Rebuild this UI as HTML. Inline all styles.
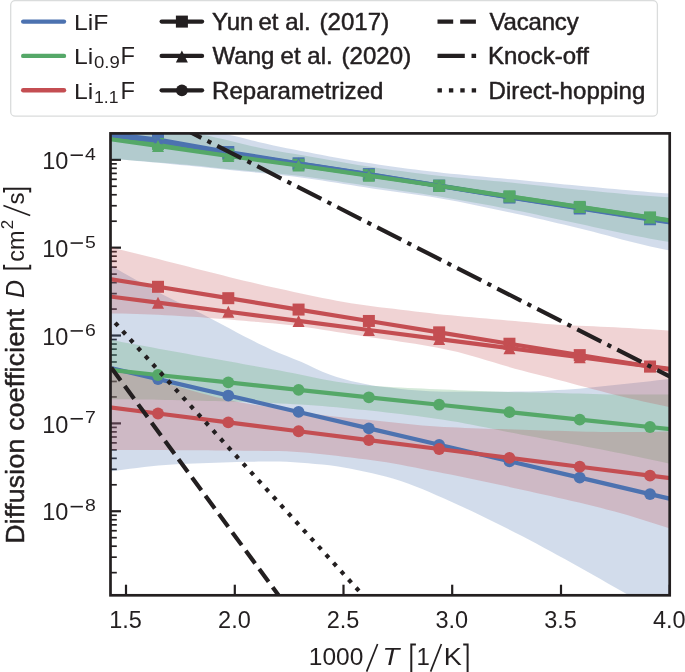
<!DOCTYPE html>
<html lang="en">
<head>
<meta charset="utf-8">
<title>Diffusion coefficient vs 1000/T</title>
<style>
html,body{margin:0;padding:0;background:#fff;}
body{width:685px;height:672px;overflow:hidden;font-family:"Liberation Sans",sans-serif;}
svg{display:block;}
</style>
</head>
<body>
<svg width="685" height="672" viewBox="0 0 685 672" font-family="Liberation Sans, sans-serif" fill="#231f20">
<rect width="685" height="672" fill="#fff"/>
<defs><clipPath id="ax"><rect x="110.5" y="133.4" width="559.2" height="461.9"/></clipPath></defs>
<line x1="110.5" y1="159.8" x2="121" y2="159.8" stroke="#231f20" stroke-width="2.2"/>
<line x1="110.5" y1="247.66" x2="121" y2="247.66" stroke="#231f20" stroke-width="2.2"/>
<line x1="110.5" y1="335.52" x2="121" y2="335.52" stroke="#231f20" stroke-width="2.2"/>
<line x1="110.5" y1="423.38" x2="121" y2="423.38" stroke="#231f20" stroke-width="2.2"/>
<line x1="110.5" y1="511.24" x2="121" y2="511.24" stroke="#231f20" stroke-width="2.2"/>
<line x1="110.5" y1="572.65" x2="116.8" y2="572.65" stroke="#231f20" stroke-width="1.7"/>
<line x1="110.5" y1="557.18" x2="116.8" y2="557.18" stroke="#231f20" stroke-width="1.7"/>
<line x1="110.5" y1="546.2" x2="116.8" y2="546.2" stroke="#231f20" stroke-width="1.7"/>
<line x1="110.5" y1="537.69" x2="116.8" y2="537.69" stroke="#231f20" stroke-width="1.7"/>
<line x1="110.5" y1="530.73" x2="116.8" y2="530.73" stroke="#231f20" stroke-width="1.7"/>
<line x1="110.5" y1="524.85" x2="116.8" y2="524.85" stroke="#231f20" stroke-width="1.7"/>
<line x1="110.5" y1="519.75" x2="116.8" y2="519.75" stroke="#231f20" stroke-width="1.7"/>
<line x1="110.5" y1="515.26" x2="116.8" y2="515.26" stroke="#231f20" stroke-width="1.7"/>
<line x1="110.5" y1="484.79" x2="116.8" y2="484.79" stroke="#231f20" stroke-width="1.7"/>
<line x1="110.5" y1="469.32" x2="116.8" y2="469.32" stroke="#231f20" stroke-width="1.7"/>
<line x1="110.5" y1="458.34" x2="116.8" y2="458.34" stroke="#231f20" stroke-width="1.7"/>
<line x1="110.5" y1="449.83" x2="116.8" y2="449.83" stroke="#231f20" stroke-width="1.7"/>
<line x1="110.5" y1="442.87" x2="116.8" y2="442.87" stroke="#231f20" stroke-width="1.7"/>
<line x1="110.5" y1="436.99" x2="116.8" y2="436.99" stroke="#231f20" stroke-width="1.7"/>
<line x1="110.5" y1="431.89" x2="116.8" y2="431.89" stroke="#231f20" stroke-width="1.7"/>
<line x1="110.5" y1="427.4" x2="116.8" y2="427.4" stroke="#231f20" stroke-width="1.7"/>
<line x1="110.5" y1="396.93" x2="116.8" y2="396.93" stroke="#231f20" stroke-width="1.7"/>
<line x1="110.5" y1="381.46" x2="116.8" y2="381.46" stroke="#231f20" stroke-width="1.7"/>
<line x1="110.5" y1="370.48" x2="116.8" y2="370.48" stroke="#231f20" stroke-width="1.7"/>
<line x1="110.5" y1="361.97" x2="116.8" y2="361.97" stroke="#231f20" stroke-width="1.7"/>
<line x1="110.5" y1="355.01" x2="116.8" y2="355.01" stroke="#231f20" stroke-width="1.7"/>
<line x1="110.5" y1="349.13" x2="116.8" y2="349.13" stroke="#231f20" stroke-width="1.7"/>
<line x1="110.5" y1="344.03" x2="116.8" y2="344.03" stroke="#231f20" stroke-width="1.7"/>
<line x1="110.5" y1="339.54" x2="116.8" y2="339.54" stroke="#231f20" stroke-width="1.7"/>
<line x1="110.5" y1="309.07" x2="116.8" y2="309.07" stroke="#231f20" stroke-width="1.7"/>
<line x1="110.5" y1="293.6" x2="116.8" y2="293.6" stroke="#231f20" stroke-width="1.7"/>
<line x1="110.5" y1="282.62" x2="116.8" y2="282.62" stroke="#231f20" stroke-width="1.7"/>
<line x1="110.5" y1="274.11" x2="116.8" y2="274.11" stroke="#231f20" stroke-width="1.7"/>
<line x1="110.5" y1="267.15" x2="116.8" y2="267.15" stroke="#231f20" stroke-width="1.7"/>
<line x1="110.5" y1="261.27" x2="116.8" y2="261.27" stroke="#231f20" stroke-width="1.7"/>
<line x1="110.5" y1="256.17" x2="116.8" y2="256.17" stroke="#231f20" stroke-width="1.7"/>
<line x1="110.5" y1="251.68" x2="116.8" y2="251.68" stroke="#231f20" stroke-width="1.7"/>
<line x1="110.5" y1="221.21" x2="116.8" y2="221.21" stroke="#231f20" stroke-width="1.7"/>
<line x1="110.5" y1="205.74" x2="116.8" y2="205.74" stroke="#231f20" stroke-width="1.7"/>
<line x1="110.5" y1="194.76" x2="116.8" y2="194.76" stroke="#231f20" stroke-width="1.7"/>
<line x1="110.5" y1="186.25" x2="116.8" y2="186.25" stroke="#231f20" stroke-width="1.7"/>
<line x1="110.5" y1="179.29" x2="116.8" y2="179.29" stroke="#231f20" stroke-width="1.7"/>
<line x1="110.5" y1="173.41" x2="116.8" y2="173.41" stroke="#231f20" stroke-width="1.7"/>
<line x1="110.5" y1="168.31" x2="116.8" y2="168.31" stroke="#231f20" stroke-width="1.7"/>
<line x1="110.5" y1="163.82" x2="116.8" y2="163.82" stroke="#231f20" stroke-width="1.7"/>
<line x1="126" y1="595.3" x2="126" y2="584.7" stroke="#231f20" stroke-width="2.2"/>
<line x1="234.8" y1="595.3" x2="234.8" y2="584.7" stroke="#231f20" stroke-width="2.2"/>
<line x1="343.5" y1="595.3" x2="343.5" y2="584.7" stroke="#231f20" stroke-width="2.2"/>
<line x1="452.2" y1="595.3" x2="452.2" y2="584.7" stroke="#231f20" stroke-width="2.2"/>
<line x1="561" y1="595.3" x2="561" y2="584.7" stroke="#231f20" stroke-width="2.2"/>
<line x1="669.7" y1="595.3" x2="669.7" y2="584.7" stroke="#231f20" stroke-width="2.2"/>
<g clip-path="url(#ax)">
<polygon points="108.5,118.73 115.63,119.71 122.76,120.73 129.89,121.8 137.02,122.9 144.15,124.05 151.27,125.23 158.4,126.45 165.53,127.7 172.66,128.99 179.79,130.3 186.92,131.64 194.05,133 201.18,134.39 208.31,135.84 215.44,137.41 222.57,139.08 229.69,140.81 236.82,142.56 243.95,144.28 251.08,145.95 258.21,147.53 265.34,148.97 272.47,150.27 279.6,151.48 286.73,152.64 293.86,153.81 300.99,155.01 308.12,156.24 315.24,157.5 322.37,158.77 329.5,160.04 336.63,161.3 343.76,162.54 350.89,163.75 358.02,164.92 365.15,166.03 372.28,167.1 379.41,168.14 386.54,169.15 393.66,170.15 400.79,171.11 407.92,172.06 415.05,172.97 422.18,173.85 429.31,174.69 436.44,175.51 443.57,176.28 450.7,177.01 457.83,177.7 464.96,178.36 472.08,179 479.21,179.63 486.34,180.26 493.47,180.9 500.6,181.56 507.73,182.24 514.86,182.95 521.99,183.68 529.12,184.42 536.25,185.18 543.38,185.94 550.51,186.7 557.63,187.45 564.76,188.2 571.89,188.93 579.02,189.63 586.15,190.33 593.28,191.03 600.41,191.74 607.54,192.43 614.67,193.12 621.8,193.78 628.93,194.42 636.05,195.03 643.18,195.6 650.31,196.12 657.44,196.59 664.57,197.02 671.7,197.41 671.7,242.33 664.57,241.15 657.44,239.93 650.31,238.66 643.18,237.31 636.05,235.91 628.93,234.46 621.8,232.98 614.67,231.48 607.54,229.95 600.41,228.42 593.28,226.89 586.15,225.36 579.02,223.86 571.89,222.34 564.76,220.81 557.63,219.26 550.51,217.71 543.38,216.16 536.25,214.62 529.12,213.11 521.99,211.62 514.86,210.18 507.73,208.78 500.6,207.41 493.47,206.06 486.34,204.73 479.21,203.42 472.08,202.14 464.96,200.88 457.83,199.64 450.7,198.42 443.57,197.23 436.44,196.07 429.31,194.94 422.18,193.83 415.05,192.75 407.92,191.69 400.79,190.64 393.66,189.6 386.54,188.57 379.41,187.54 372.28,186.5 365.15,185.44 358.02,184.36 350.89,183.27 343.76,182.16 336.63,181.06 329.5,179.99 322.37,178.94 315.24,177.93 308.12,176.97 300.99,176.08 293.86,175.26 286.73,174.5 279.6,173.78 272.47,173.1 265.34,172.44 258.21,171.79 251.08,171.15 243.95,170.51 236.82,169.85 229.69,169.17 222.57,168.45 215.44,167.68 208.31,166.89 201.18,166.11 194.05,165.38 186.92,164.73 179.79,164.15 172.66,163.62 165.53,163.08 158.4,162.53 151.27,161.95 144.15,161.37 137.02,160.77 129.89,160.17 122.76,159.56 115.63,158.95 108.5,158.32" fill="#55a868" fill-opacity="0.25"/>
<polygon points="108.5,111.7 115.63,112.8 122.76,113.94 129.89,115.12 137.02,116.34 144.15,117.6 151.27,118.89 158.4,120.22 165.53,121.58 172.66,122.96 179.79,124.38 186.92,125.82 194.05,127.28 201.18,128.77 208.31,130.28 215.44,131.8 222.57,133.35 229.69,134.9 236.82,136.56 243.95,138.33 251.08,140.14 258.21,141.91 265.34,143.58 272.47,145.15 279.6,146.67 286.73,148.14 293.86,149.57 300.99,150.96 308.12,152.34 315.24,153.71 322.37,155.06 329.5,156.39 336.63,157.69 343.76,158.96 350.89,160.19 358.02,161.38 365.15,162.52 372.28,163.61 379.41,164.67 386.54,165.7 393.66,166.71 400.79,167.68 407.92,168.63 415.05,169.55 422.18,170.43 429.31,171.28 436.44,172.1 443.57,172.89 450.7,173.63 457.83,174.34 464.96,175.02 472.08,175.69 479.21,176.34 486.34,176.98 493.47,177.63 500.6,178.28 507.73,178.94 514.86,179.62 521.99,180.31 529.12,180.99 536.25,181.68 543.38,182.36 550.51,183.05 557.63,183.73 564.76,184.4 571.89,185.07 579.02,185.74 586.15,186.4 593.28,187.06 600.41,187.72 607.54,188.38 614.67,189.03 621.8,189.68 628.93,190.31 636.05,190.93 643.18,191.54 650.31,192.13 657.44,192.69 664.57,193.22 671.7,193.75 671.7,250.89 664.57,249.48 657.44,248.02 650.31,246.47 643.18,244.82 636.05,243.07 628.93,241.26 621.8,239.39 614.67,237.5 607.54,235.59 600.41,233.69 593.28,231.82 586.15,229.99 579.02,228.24 571.89,226.52 564.76,224.82 557.63,223.14 550.51,221.48 543.38,219.84 536.25,218.21 529.12,216.61 521.99,215.03 514.86,213.47 507.73,211.94 500.6,210.42 493.47,208.89 486.34,207.38 479.21,205.89 472.08,204.42 464.96,202.98 457.83,201.59 450.7,200.25 443.57,198.97 436.44,197.75 429.31,196.6 422.18,195.5 415.05,194.45 407.92,193.43 400.79,192.43 393.66,191.43 386.54,190.44 379.41,189.43 372.28,188.4 365.15,187.33 358.02,186.23 350.89,185.09 343.76,183.94 336.63,182.79 329.5,181.65 322.37,180.54 315.24,179.47 308.12,178.45 300.99,177.5 293.86,176.62 286.73,175.79 279.6,175 272.47,174.24 265.34,173.51 258.21,172.79 251.08,172.09 243.95,171.39 236.82,170.69 229.69,169.98 222.57,169.25 215.44,168.52 208.31,167.79 201.18,167.05 194.05,166.33 186.92,165.6 179.79,164.89 172.66,164.19 165.53,163.51 158.4,162.84 151.27,162.19 144.15,161.55 137.02,160.92 129.89,160.31 122.76,159.71 115.63,159.12 108.5,158.54" fill="#4c72b0" fill-opacity="0.25"/>
<polygon points="108.5,264.11 115.63,268.33 122.76,272.49 129.89,276.58 137.02,280.59 144.15,284.54 151.27,288.41 158.4,292.21 165.53,295.91 172.66,299.49 179.79,303.01 186.92,306.51 194.05,310.02 201.18,313.6 208.31,317.26 215.44,321 222.57,324.78 229.69,328.58 236.82,332.38 243.95,336.13 251.08,339.81 258.21,343.4 265.34,346.86 272.47,350.17 279.6,353.26 286.73,356.1 293.86,358.88 300.99,361.83 308.12,365.12 315.24,368.54 322.37,371.73 329.5,374.43 336.63,376.88 343.76,379.09 350.89,380.97 358.02,382.62 365.15,384.11 372.28,385.4 379.41,386.43 386.54,387.27 393.66,388.1 400.79,388.9 407.92,389.63 415.05,390.29 422.18,390.84 429.31,391.28 436.44,391.57 443.57,391.7 450.7,391.7 457.83,391.7 464.96,391.69 472.08,391.69 479.21,391.68 486.34,391.67 493.47,391.66 500.6,391.65 507.73,391.63 514.86,391.62 521.99,391.6 529.12,391.49 536.25,391.26 543.38,390.94 550.51,390.55 557.63,390.1 564.76,389.64 571.89,389.17 579.02,388.65 586.15,388.02 593.28,387.31 600.41,386.56 607.54,385.79 614.67,385.03 621.8,384.29 628.93,383.53 636.05,382.76 643.18,381.97 650.31,381.17 657.44,380.35 664.57,379.51 671.7,378.66 671.7,619.11 664.57,615.15 657.44,611.18 650.31,607.21 643.18,603.23 636.05,599.24 628.93,595.24 621.8,591.23 614.67,587.2 607.54,583.14 600.41,579.08 593.28,575.03 586.15,571 579.02,567 571.89,563.04 564.76,559.12 557.63,555.2 550.51,551.3 543.38,547.43 536.25,543.59 529.12,539.81 521.99,536.08 514.86,532.43 507.73,528.83 500.6,525.25 493.47,521.71 486.34,518.21 479.21,514.76 472.08,511.36 464.96,508.01 457.83,504.73 450.7,501.52 443.57,498.37 436.44,495.23 429.31,492.11 422.18,489.07 415.05,486.18 407.92,483.49 400.79,481.07 393.66,478.87 386.54,476.83 379.41,474.95 372.28,473.25 365.15,471.7 358.02,470.19 350.89,468.76 343.76,467.44 336.63,466.28 329.5,465.32 322.37,464.58 315.24,463.89 308.12,463.23 300.99,462.63 293.86,462.13 286.73,461.76 279.6,461.54 272.47,461.5 265.34,461.53 258.21,461.6 251.08,461.7 243.95,461.84 236.82,462 229.69,462.19 222.57,462.4 215.44,462.63 208.31,462.89 201.18,463.16 194.05,463.44 186.92,463.74 179.79,464.05 172.66,464.45 165.53,464.97 158.4,465.58 151.27,466.29 144.15,467.08 137.02,467.94 129.89,468.85 122.76,469.8 115.63,470.78 108.5,471.78" fill="#4c72b0" fill-opacity="0.25"/>
<polygon points="108.5,339.53 115.63,340.84 122.76,342.15 129.89,343.46 137.02,344.77 144.15,346.07 151.27,347.37 158.4,348.67 165.53,349.97 172.66,351.27 179.79,352.56 186.92,353.85 194.05,355.15 201.18,356.43 208.31,357.72 215.44,359.01 222.57,360.29 229.69,361.58 236.82,362.86 243.95,364.14 251.08,365.42 258.21,366.7 265.34,367.97 272.47,369.25 279.6,370.54 286.73,371.92 293.86,373.35 300.99,374.82 308.12,376.3 315.24,377.76 322.37,379.17 329.5,380.51 336.63,381.75 343.76,382.87 350.89,383.84 358.02,384.63 365.15,385.24 372.28,385.79 379.41,386.29 386.54,386.75 393.66,387.18 400.79,387.57 407.92,387.94 415.05,388.28 422.18,388.61 429.31,388.92 436.44,389.23 443.57,389.54 450.7,389.85 457.83,390.15 464.96,390.44 472.08,390.73 479.21,391.01 486.34,391.27 493.47,391.52 500.6,391.75 507.73,391.96 514.86,392.15 521.99,392.32 529.12,392.46 536.25,392.58 543.38,392.69 550.51,392.81 557.63,392.96 564.76,393.15 571.89,393.38 579.02,393.62 586.15,393.87 593.28,394.1 600.41,394.29 607.54,394.43 614.67,394.5 621.8,394.52 628.93,394.54 636.05,394.56 643.18,394.57 650.31,394.59 657.44,394.59 664.57,394.6 671.7,394.6 671.7,464.03 664.57,462.5 657.44,460.97 650.31,459.46 643.18,457.96 636.05,456.47 628.93,455.01 621.8,453.56 614.67,452.13 607.54,450.73 600.41,449.35 593.28,447.98 586.15,446.63 579.02,445.29 571.89,443.96 564.76,442.64 557.63,441.32 550.51,440.01 543.38,438.69 536.25,437.36 529.12,436.03 521.99,434.69 514.86,433.32 507.73,431.9 500.6,430.46 493.47,429.01 486.34,427.56 479.21,426.13 472.08,424.73 464.96,423.38 457.83,422.1 450.7,420.89 443.57,419.78 436.44,418.74 429.31,417.73 422.18,416.75 415.05,415.82 407.92,414.91 400.79,414.04 393.66,413.2 386.54,412.39 379.41,411.61 372.28,410.85 365.15,410.11 358.02,409.38 350.89,408.67 343.76,407.97 336.63,407.29 329.5,406.65 322.37,406.05 315.24,405.49 308.12,404.99 300.99,404.54 293.86,404.13 286.73,403.74 279.6,403.38 272.47,403.04 265.34,402.72 258.21,402.42 251.08,402.15 243.95,401.91 236.82,401.69 229.69,401.49 222.57,401.29 215.44,401.09 208.31,400.9 201.18,400.71 194.05,400.53 186.92,400.35 179.79,400.19 172.66,400.03 165.53,399.88 158.4,399.74 151.27,399.62 144.15,399.51 137.02,399.41 129.89,399.33 122.76,399.27 115.63,399.22 108.5,399.19" fill="#55a868" fill-opacity="0.25"/>
<polygon points="108.5,365.33 115.63,367.72 122.76,370.07 129.89,372.39 137.02,374.66 144.15,376.87 151.27,379.03 158.4,381.12 165.53,383.18 172.66,385.24 179.79,387.29 186.92,389.32 194.05,391.3 201.18,393.24 208.31,395.1 215.44,396.89 222.57,398.59 229.69,400.19 236.82,401.67 243.95,403 251.08,404.21 258.21,405.35 265.34,406.45 272.47,407.58 279.6,408.78 286.73,410.04 293.86,411.26 300.99,412.36 308.12,413.32 315.24,414.23 322.37,415.08 329.5,415.9 336.63,416.68 343.76,417.44 350.89,418.18 358.02,418.9 365.15,419.62 372.28,420.35 379.41,421.09 386.54,421.85 393.66,422.6 400.79,423.35 407.92,424.07 415.05,424.76 422.18,425.4 429.31,425.98 436.44,426.5 443.57,426.92 450.7,427.28 457.83,427.61 464.96,427.9 472.08,428.18 479.21,428.43 486.34,428.67 493.47,428.89 500.6,429.11 507.73,429.32 514.86,429.52 521.99,429.73 529.12,429.95 536.25,430.17 543.38,430.41 550.51,430.64 557.63,430.87 564.76,431.1 571.89,431.3 579.02,431.5 586.15,431.66 593.28,431.8 600.41,431.91 607.54,431.97 614.67,432 621.8,431.99 628.93,431.98 636.05,431.94 643.18,431.89 650.31,431.82 657.44,431.72 664.57,431.6 671.7,431.46 671.7,529.17 664.57,526.8 657.44,524.46 650.31,522.17 643.18,519.93 636.05,517.74 628.93,515.62 621.8,513.58 614.67,511.61 607.54,509.72 600.41,507.87 593.28,506.08 586.15,504.33 579.02,502.62 571.89,500.94 564.76,499.29 557.63,497.66 550.51,496.06 543.38,494.46 536.25,492.88 529.12,491.3 521.99,489.72 514.86,488.14 507.73,486.57 500.6,485.01 493.47,483.47 486.34,481.94 479.21,480.43 472.08,478.95 464.96,477.48 457.83,476.03 450.7,474.61 443.57,473.22 436.44,471.82 429.31,470.39 422.18,468.97 415.05,467.56 407.92,466.17 400.79,464.84 393.66,463.56 386.54,462.35 379.41,461.24 372.28,460.24 365.15,459.33 358.02,458.43 350.89,457.52 343.76,456.63 336.63,455.75 329.5,454.92 322.37,454.13 315.24,453.4 308.12,452.74 300.99,452.17 293.86,451.69 286.73,451.33 279.6,451.09 272.47,450.97 265.34,450.88 258.21,450.8 251.08,450.73 243.95,450.65 236.82,450.58 229.69,450.52 222.57,450.46 215.44,450.4 208.31,450.35 201.18,450.3 194.05,450.25 186.92,450.21 179.79,450.17 172.66,450.14 165.53,450.11 158.4,450.08 151.27,450.06 144.15,450.04 137.02,450.03 129.89,450.01 122.76,450.01 115.63,450 108.5,450" fill="#c44e52" fill-opacity="0.25"/>
<polygon points="108.5,246.6 115.63,248.39 122.76,250.18 129.89,251.97 137.02,253.76 144.15,255.55 151.27,257.33 158.4,259.1 165.53,260.88 172.66,262.68 179.79,264.49 186.92,266.31 194.05,268.13 201.18,269.95 208.31,271.77 215.44,273.58 222.57,275.37 229.69,277.15 236.82,278.91 243.95,280.64 251.08,282.35 258.21,284.02 265.34,285.65 272.47,287.25 279.6,288.8 286.73,290.36 293.86,291.92 300.99,293.46 308.12,294.98 315.24,296.47 322.37,297.92 329.5,299.32 336.63,300.67 343.76,301.96 350.89,303.17 358.02,304.3 365.15,305.34 372.28,306.29 379.41,307.17 386.54,308.02 393.66,308.85 400.79,309.7 407.92,310.56 415.05,311.42 422.18,312.26 429.31,313.09 436.44,313.89 443.57,314.65 450.7,315.37 457.83,316.06 464.96,316.72 472.08,317.37 479.21,318 486.34,318.61 493.47,319.22 500.6,319.83 507.73,320.44 514.86,321.06 521.99,321.69 529.12,322.36 536.25,323.05 543.38,323.71 550.51,324.29 557.63,324.76 564.76,325.14 571.89,325.48 579.02,325.78 586.15,326.07 593.28,326.35 600.41,326.63 607.54,326.94 614.67,327.28 621.8,327.66 628.93,328.05 636.05,328.46 643.18,328.89 650.31,329.33 657.44,329.79 664.57,330.26 671.7,330.74 671.7,407.62 664.57,406.12 657.44,404.59 650.31,403.02 643.18,401.42 636.05,399.79 628.93,398.13 621.8,396.44 614.67,394.72 607.54,392.95 600.41,391.11 593.28,389.24 586.15,387.33 579.02,385.41 571.89,383.48 564.76,381.57 557.63,379.69 550.51,377.84 543.38,376.03 536.25,374.23 529.12,372.41 521.99,370.56 514.86,368.63 507.73,366.59 500.6,364.48 493.47,362.33 486.34,360.17 479.21,358.04 472.08,355.96 464.96,353.98 457.83,352.12 450.7,350.42 443.57,348.91 436.44,347.53 429.31,346.23 422.18,345 415.05,343.84 407.92,342.73 400.79,341.65 393.66,340.6 386.54,339.57 379.41,338.54 372.28,337.51 365.15,336.45 358.02,335.36 350.89,334.24 343.76,333.09 336.63,331.94 329.5,330.79 322.37,329.66 315.24,328.55 308.12,327.49 300.99,326.49 293.86,325.55 286.73,324.7 279.6,323.94 272.47,323.27 265.34,322.64 258.21,322.01 251.08,321.38 243.95,320.76 236.82,320.16 229.69,319.56 222.57,318.99 215.44,318.43 208.31,317.88 201.18,317.36 194.05,316.86 186.92,316.39 179.79,315.94 172.66,315.52 165.53,315.13 158.4,314.78 151.27,314.46 144.15,314.17 137.02,313.93 129.89,313.73 122.76,313.57 115.63,313.45 108.5,313.39" fill="#c44e52" fill-opacity="0.25"/>
<polyline points="107.5,133.65 158,139.5 228.29,152 298.58,163.3 368.87,174.1 439.16,185.6 509.45,197.1 579.74,208 650.03,218.9 672.7,222.36" fill="none" stroke="#4c72b0" stroke-width="4.2" stroke-linejoin="round"/>
<rect x="152" y="133.5" width="12" height="12" fill="#4c72b0"/>
<rect x="222.29" y="146" width="12" height="12" fill="#4c72b0"/>
<rect x="292.58" y="157.3" width="12" height="12" fill="#4c72b0"/>
<rect x="362.87" y="168.1" width="12" height="12" fill="#4c72b0"/>
<rect x="433.16" y="179.6" width="12" height="12" fill="#4c72b0"/>
<rect x="503.45" y="191.1" width="12" height="12" fill="#4c72b0"/>
<rect x="573.74" y="202" width="12" height="12" fill="#4c72b0"/>
<rect x="644.03" y="212.9" width="12" height="12" fill="#4c72b0"/>
<polyline points="107.5,137.1 158,143.9 228.29,154.5 298.58,164.8 368.87,175.2 439.16,185.7 509.45,196.3 579.74,206.9 650.03,217.4 672.7,220.74" fill="none" stroke="#55a868" stroke-width="4.2" stroke-linejoin="round"/>
<rect x="152" y="137.9" width="12" height="12" fill="#55a868"/>
<rect x="222.29" y="148.5" width="12" height="12" fill="#55a868"/>
<rect x="292.58" y="158.8" width="12" height="12" fill="#55a868"/>
<rect x="362.87" y="169.2" width="12" height="12" fill="#55a868"/>
<rect x="433.16" y="179.7" width="12" height="12" fill="#55a868"/>
<rect x="503.45" y="190.3" width="12" height="12" fill="#55a868"/>
<rect x="573.74" y="200.9" width="12" height="12" fill="#55a868"/>
<rect x="644.03" y="211.4" width="12" height="12" fill="#55a868"/>
<polyline points="107.5,278.62 158,286.8 228.29,298.19 298.58,309.57 368.87,320.96 439.16,332.35 509.45,343.73 579.74,355.12 650.03,366.51 672.7,370.18" fill="none" stroke="#c44e52" stroke-width="4.2" stroke-linejoin="round"/>
<rect x="152" y="280.8" width="12" height="12" fill="#c44e52"/>
<rect x="222.29" y="292.19" width="12" height="12" fill="#c44e52"/>
<rect x="292.58" y="303.57" width="12" height="12" fill="#c44e52"/>
<rect x="362.87" y="314.96" width="12" height="12" fill="#c44e52"/>
<rect x="433.16" y="326.35" width="12" height="12" fill="#c44e52"/>
<rect x="503.45" y="337.73" width="12" height="12" fill="#c44e52"/>
<rect x="573.74" y="349.12" width="12" height="12" fill="#c44e52"/>
<rect x="644.03" y="360.51" width="12" height="12" fill="#c44e52"/>
<polyline points="107.5,135.49 158,140.7 228.29,152.8 298.58,163.6 368.87,174.4 439.16,185.9 509.45,197.5 579.74,208.4 650.03,219.3 672.7,222.76" fill="none" stroke="#4c72b0" stroke-width="4.2" stroke-linejoin="round"/>
<polygon points="158,134.7 152,146.7 164,146.7" fill="#4c72b0"/>
<polygon points="228.29,146.8 222.29,158.8 234.29,158.8" fill="#4c72b0"/>
<polygon points="298.58,157.6 292.58,169.6 304.58,169.6" fill="#4c72b0"/>
<polygon points="368.87,168.4 362.87,180.4 374.87,180.4" fill="#4c72b0"/>
<polygon points="439.16,179.9 433.16,191.9 445.16,191.9" fill="#4c72b0"/>
<polygon points="509.45,191.5 503.45,203.5 515.45,203.5" fill="#4c72b0"/>
<polygon points="579.74,202.4 573.74,214.4 585.74,214.4" fill="#4c72b0"/>
<polygon points="650.03,213.3 644.03,225.3 656.03,225.3" fill="#4c72b0"/>
<polyline points="107.5,138.88 158,145.9 228.29,155.9 298.58,165.5 368.87,175.7 439.16,186 509.45,196.5 579.74,207.1 650.03,217.6 672.7,220.94" fill="none" stroke="#55a868" stroke-width="4.2" stroke-linejoin="round"/>
<polygon points="158,139.9 152,151.9 164,151.9" fill="#55a868"/>
<polygon points="228.29,149.9 222.29,161.9 234.29,161.9" fill="#55a868"/>
<polygon points="298.58,159.5 292.58,171.5 304.58,171.5" fill="#55a868"/>
<polygon points="368.87,169.7 362.87,181.7 374.87,181.7" fill="#55a868"/>
<polygon points="439.16,180 433.16,192 445.16,192" fill="#55a868"/>
<polygon points="509.45,190.5 503.45,202.5 515.45,202.5" fill="#55a868"/>
<polygon points="579.74,201.1 573.74,213.1 585.74,213.1" fill="#55a868"/>
<polygon points="650.03,211.6 644.03,223.6 656.03,223.6" fill="#55a868"/>
<polyline points="107.5,296.17 158,302.7 228.29,311.79 298.58,320.88 368.87,329.97 439.16,339.05 509.45,348.14 579.74,357.23 650.03,366.32 672.7,369.25" fill="none" stroke="#c44e52" stroke-width="4.2" stroke-linejoin="round"/>
<polygon points="158,296.7 152,308.7 164,308.7" fill="#c44e52"/>
<polygon points="228.29,305.79 222.29,317.79 234.29,317.79" fill="#c44e52"/>
<polygon points="298.58,314.88 292.58,326.88 304.58,326.88" fill="#c44e52"/>
<polygon points="368.87,323.97 362.87,335.97 374.87,335.97" fill="#c44e52"/>
<polygon points="439.16,333.05 433.16,345.05 445.16,345.05" fill="#c44e52"/>
<polygon points="509.45,342.14 503.45,354.14 515.45,354.14" fill="#c44e52"/>
<polygon points="579.74,351.23 573.74,363.23 585.74,363.23" fill="#c44e52"/>
<polygon points="650.03,360.32 644.03,372.32 656.03,372.32" fill="#c44e52"/>
<polyline points="107.5,367.3 158,379.1 228.29,395.53 298.58,411.95 368.87,428.38 439.16,444.81 509.45,461.23 579.74,477.66 650.03,494.09 672.7,499.39" fill="none" stroke="#4c72b0" stroke-width="4.2" stroke-linejoin="round"/>
<circle cx="158" cy="379.1" r="5.9" fill="#4c72b0"/>
<circle cx="228.29" cy="395.53" r="5.9" fill="#4c72b0"/>
<circle cx="298.58" cy="411.95" r="5.9" fill="#4c72b0"/>
<circle cx="368.87" cy="428.38" r="5.9" fill="#4c72b0"/>
<circle cx="439.16" cy="444.81" r="5.9" fill="#4c72b0"/>
<circle cx="509.45" cy="461.23" r="5.9" fill="#4c72b0"/>
<circle cx="579.74" cy="477.66" r="5.9" fill="#4c72b0"/>
<circle cx="650.03" cy="494.09" r="5.9" fill="#4c72b0"/>
<polyline points="107.5,369.66 158,375 228.29,382.43 298.58,389.86 368.87,397.29 439.16,404.72 509.45,412.15 579.74,419.58 650.03,427.01 672.7,429.4" fill="none" stroke="#55a868" stroke-width="4.2" stroke-linejoin="round"/>
<circle cx="158" cy="375" r="5.9" fill="#55a868"/>
<circle cx="228.29" cy="382.43" r="5.9" fill="#55a868"/>
<circle cx="298.58" cy="389.86" r="5.9" fill="#55a868"/>
<circle cx="368.87" cy="397.29" r="5.9" fill="#55a868"/>
<circle cx="439.16" cy="404.72" r="5.9" fill="#55a868"/>
<circle cx="509.45" cy="412.15" r="5.9" fill="#55a868"/>
<circle cx="579.74" cy="419.58" r="5.9" fill="#55a868"/>
<circle cx="650.03" cy="427.01" r="5.9" fill="#55a868"/>
<polyline points="107.5,407.13 158,413.5 228.29,422.37 298.58,431.24 368.87,440.11 439.16,448.98 509.45,457.85 579.74,466.72 650.03,475.59 672.7,478.46" fill="none" stroke="#c44e52" stroke-width="4.2" stroke-linejoin="round"/>
<circle cx="158" cy="413.5" r="5.9" fill="#c44e52"/>
<circle cx="228.29" cy="422.37" r="5.9" fill="#c44e52"/>
<circle cx="298.58" cy="431.24" r="5.9" fill="#c44e52"/>
<circle cx="368.87" cy="440.11" r="5.9" fill="#c44e52"/>
<circle cx="439.16" cy="448.98" r="5.9" fill="#c44e52"/>
<circle cx="509.45" cy="457.85" r="5.9" fill="#c44e52"/>
<circle cx="579.74" cy="466.72" r="5.9" fill="#c44e52"/>
<circle cx="650.03" cy="475.59" r="5.9" fill="#c44e52"/>
<line x1="111.3" y1="367.8" x2="300.86" y2="625.61" stroke="#231f20" stroke-width="4.2" stroke-dasharray="15.8 6.9"/>
<line x1="115.17" y1="322.83" x2="397.75" y2="633.55" stroke="#231f20" stroke-width="4.2" stroke-dasharray="4.2 6.99"/>
<line x1="177.23" y1="125.48" x2="729.66" y2="406.95" stroke="#231f20" stroke-width="4.2" stroke-dasharray="27.09 6.8 4.2 6.8"/>
</g>
<rect x="110.5" y="133.4" width="559.2" height="461.9" fill="none" stroke="#231f20" stroke-width="2.7"/>
<g opacity="0.999">
<rect x="10.7" y="0.55" width="646.7" height="115.65" rx="4.5" ry="4.5" fill="#fff" fill-opacity="0.8" stroke="#dadcdc" stroke-width="1.3"/>
<line x1="23.2" y1="21.6" x2="64.0" y2="21.6" stroke="#4c72b0" stroke-width="4.4" stroke-linecap="round"/>
<line x1="23.2" y1="55.9" x2="64.0" y2="55.9" stroke="#55a868" stroke-width="4.4" stroke-linecap="round"/>
<line x1="23.2" y1="90.3" x2="64.0" y2="90.3" stroke="#c44e52" stroke-width="4.4" stroke-linecap="round"/>
<line x1="161.6" y1="21.6" x2="202.1" y2="21.6" stroke="#231f20" stroke-width="4.2" stroke-linecap="round"/>
<rect x="175.9" y="15.6" width="12" height="12" fill="#231f20"/>
<line x1="161.6" y1="55.9" x2="202.1" y2="55.9" stroke="#231f20" stroke-width="4.2" stroke-linecap="round"/>
<polygon points="181.9,50.5 175.9,62.5 187.9,62.5" fill="#231f20"/>
<line x1="161.6" y1="90.3" x2="202.1" y2="90.3" stroke="#231f20" stroke-width="4.2" stroke-linecap="round"/>
<circle cx="181.9" cy="90.3" r="5.9" fill="#231f20"/>
<line x1="437.5" y1="21.6" x2="477" y2="21.6" stroke="#231f20" stroke-width="4.3" stroke-dasharray="15.7 7"/>
<line x1="437.5" y1="55.9" x2="477" y2="55.9" stroke="#231f20" stroke-width="4.3" stroke-dasharray="27.3 6.7 4.6 6.7"/>
<line x1="437.5" y1="90.4" x2="477" y2="90.4" stroke="#231f20" stroke-width="4.3" stroke-dasharray="4.4 7"/>
<text transform="translate(73.9,29.9) scale(1.075,1)" font-size="23" text-anchor="start" >LiF</text>
<text transform="translate(73.9,64.3) scale(1.075,1)" font-size="23" text-anchor="start" >Li</text>
<text transform="translate(94,68.1) scale(1.14,1)" font-size="16.3" text-anchor="start" >0.9</text>
<text transform="translate(120.6,64.3) scale(1.03,1)" font-size="23" text-anchor="start" >F</text>
<text transform="translate(73.9,98.7) scale(1.075,1)" font-size="23" text-anchor="start" >Li</text>
<text transform="translate(94,102.5) scale(1.08,1)" font-size="16.3" text-anchor="start" >1.1</text>
<text transform="translate(120.6,98.7) scale(1.03,1)" font-size="23" text-anchor="start" >F</text>
<text x="212" y="29.9" font-size="24" text-anchor="start"  stroke="#231f20" stroke-width="0.5" stroke-linejoin="round">Yun</text>
<text x="258.4" y="29.9" font-size="24" text-anchor="start"  stroke="#231f20" stroke-width="0.5" stroke-linejoin="round">et</text>
<text x="285.3" y="29.9" font-size="24" text-anchor="start"  stroke="#231f20" stroke-width="0.5" stroke-linejoin="round">al.</text>
<text x="319.4" y="29.9" font-size="24" text-anchor="start"  stroke="#231f20" stroke-width="0.5" stroke-linejoin="round" letter-spacing="0.08">(2017)</text>
<text x="212.6" y="64.3" font-size="24" text-anchor="start"  stroke="#231f20" stroke-width="0.5" stroke-linejoin="round">Wang</text>
<text x="280.6" y="64.3" font-size="24" text-anchor="start"  stroke="#231f20" stroke-width="0.5" stroke-linejoin="round">et al.</text>
<text x="341.4" y="64.3" font-size="24" text-anchor="start"  stroke="#231f20" stroke-width="0.5" stroke-linejoin="round" letter-spacing="0.08">(2020)</text>
<text x="212" y="98.7" font-size="24" text-anchor="start"  stroke="#231f20" stroke-width="0.5" stroke-linejoin="round" letter-spacing="0.05">Reparametrized</text>
<text x="489.6" y="29.9" font-size="24" text-anchor="start"  stroke="#231f20" stroke-width="0.5" stroke-linejoin="round" letter-spacing="-0.2">Vacancy</text>
<text x="488" y="64.3" font-size="24" text-anchor="start"  stroke="#231f20" stroke-width="0.5" stroke-linejoin="round">Knock-off</text>
<text x="488.6" y="98.7" font-size="24" text-anchor="start"  stroke="#231f20" stroke-width="0.5" stroke-linejoin="round" letter-spacing="0.05">Direct-hopping</text>
<text x="68.3" y="169" font-size="23.5" text-anchor="end" >10</text>
<rect x="70.6" y="154.4" width="12.3" height="1.6" fill="#231f20"/>
<text transform="translate(95.9,159.9) scale(1.18,1)" font-size="16.5" text-anchor="end" >4</text>
<text x="68.3" y="256.86" font-size="23.5" text-anchor="end" >10</text>
<rect x="70.6" y="242.26" width="12.3" height="1.6" fill="#231f20"/>
<text transform="translate(95.9,247.76) scale(1.18,1)" font-size="16.5" text-anchor="end" >5</text>
<text x="68.3" y="344.72" font-size="23.5" text-anchor="end" >10</text>
<rect x="70.6" y="330.12" width="12.3" height="1.6" fill="#231f20"/>
<text transform="translate(95.9,335.62) scale(1.18,1)" font-size="16.5" text-anchor="end" >6</text>
<text x="68.3" y="432.58" font-size="23.5" text-anchor="end" >10</text>
<rect x="70.6" y="417.98" width="12.3" height="1.6" fill="#231f20"/>
<text transform="translate(95.9,423.48) scale(1.18,1)" font-size="16.5" text-anchor="end" >7</text>
<text x="68.3" y="520.44" font-size="23.5" text-anchor="end" >10</text>
<rect x="70.6" y="505.84" width="12.3" height="1.6" fill="#231f20"/>
<text transform="translate(95.9,511.34) scale(1.18,1)" font-size="16.5" text-anchor="end" >8</text>
<text x="125.6" y="627.9" font-size="23.5" text-anchor="middle" >1.5</text>
<text x="234.4" y="627.9" font-size="23.5" text-anchor="middle" >2.0</text>
<text x="343.1" y="627.9" font-size="23.5" text-anchor="middle" >2.5</text>
<text x="451.8" y="627.9" font-size="23.5" text-anchor="middle" >3.0</text>
<text x="560.6" y="627.9" font-size="23.5" text-anchor="middle" >3.5</text>
<text x="669.3" y="627.9" font-size="23.5" text-anchor="middle" >4.0</text>
<text x="308.8" y="664.8" font-size="24.5" text-anchor="start" >1000</text>
<line x1="366.6" y1="671.6" x2="377.6" y2="644" stroke="#231f20" stroke-width="1.7"/>
<text transform="translate(382.4,664.8) scale(1.15,1)" font-size="24" text-anchor="start" font-style="italic">T</text>
<path d="M415.9,644.6H411.3V672.5" fill="none" stroke="#231f20" stroke-width="2.0"/>
<text x="416.6" y="664.8" font-size="24" text-anchor="start" >1</text>
<line x1="430.6" y1="671.6" x2="441.4" y2="644" stroke="#231f20" stroke-width="1.7"/>
<text transform="translate(443.8,664.8) scale(1.13,1)" font-size="24" text-anchor="start" >K</text>
<path d="M463.2,644.6H467.6V672.5" fill="none" stroke="#231f20" stroke-width="2.0"/>
<g transform="translate(23.6,541.1) rotate(-90)"><text x="-2.6" y="0" font-size="26.67" text-anchor="start"  stroke="#231f20" stroke-width="0.5" stroke-linejoin="round" letter-spacing="0.22">Diffusion coefficient</text><text x="243" y="0" font-size="25" text-anchor="start" font-style="italic">D</text><path d="M276.4,-19.6H272.6V6.6H276.4" fill="none" stroke="#231f20" stroke-width="2.0"/><text x="279.3" y="0" font-size="23.5" text-anchor="start" >cm</text><text x="311.8" y="-10.6" font-size="17" text-anchor="start" >2</text><line x1="325.6" y1="6.6" x2="335.6" y2="-20.2" stroke="#231f20" stroke-width="1.7"/><text x="336.6" y="0" font-size="24" text-anchor="start" >s</text><path d="M348.6,-19.6H352.4V6.6H348.6" fill="none" stroke="#231f20" stroke-width="2.0"/></g>
</g>
</svg>
</body>
</html>
